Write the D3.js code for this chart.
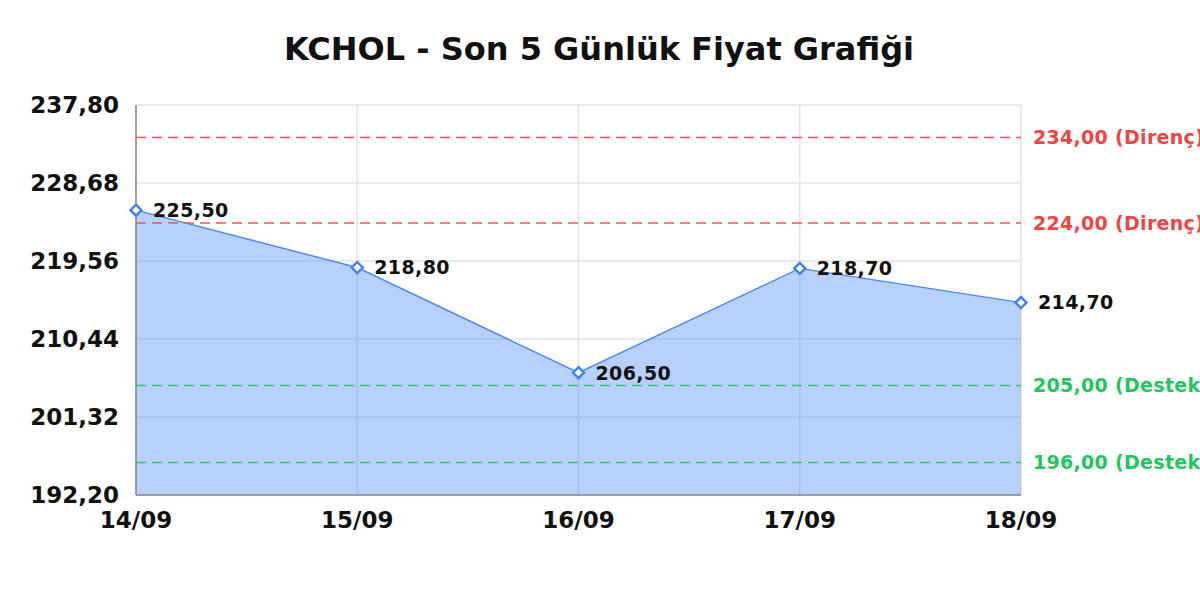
<!DOCTYPE html>
<html>
<head>
<meta charset="utf-8">
<script src="https://cdn.jsdelivr.net/npm/d3@7"></script>
<style>
  html, body { margin: 0; padding: 0; background: #fff; }
  svg { display: block; font-family: "DejaVu Sans", sans-serif; }
</style>
</head>
<body>
<div id="chart"></div>
<script>
// ── Data ───────────────────────────────────────────────────────────────
const dates  = ["14/09", "15/09", "16/09", "17/09", "18/09"];
const prices = [225.50, 218.80, 206.50, 218.70, 214.70];
const yTicks = [192.20, 201.32, 210.44, 219.56, 228.68, 237.80];
const resistance = [234.00, 224.00];
const support    = [205.00, 196.00];

const title = "KCHOL - Son 5 Günlük Fiyat Grafiği";
const fmt = v => v.toFixed(2).replace(".", ",");

// ── Setup ──────────────────────────────────────────────────────────────
const W = 1200, H = 600;
const m = { top: 105, right: 179, bottom: 105, left: 136 };

const svg = d3.select("#chart").append("svg").attr("width", W).attr("height", H);

const x = d3.scalePoint().domain(dates).range([m.left, W - m.right]);
const y = d3.scaleLinear().domain([yTicks[0], yTicks[yTicks.length - 1]]).range([H - m.bottom, m.top]);

// ── Grid ───────────────────────────────────────────────────────────────
const grid = svg.append("g");
grid.selectAll("line.h").data(yTicks).join("line").attr("class", "h")
  .attr("x1", m.left).attr("x2", W - m.right)
  .attr("y1", d => y(d)).attr("y2", d => y(d))
  .attr("stroke", "#e3e3e3").attr("stroke-width", 1.5);
grid.selectAll("line.v").data(dates).join("line").attr("class", "v")
  .attr("x1", d => x(d)).attr("x2", d => x(d))
  .attr("y1", m.top).attr("y2", H - m.bottom)
  .attr("stroke", "#e3e3e3").attr("stroke-width", 1.5);

// ── Area + line ────────────────────────────────────────────────────────
const pts = dates.map((d, i) => ({ d, v: prices[i] }));
svg.append("path").datum(pts)
  .attr("d", d3.area().x(p => x(p.d)).y0(y(yTicks[0])).y1(p => y(p.v)))
  .attr("fill", "rgba(59,130,246,0.37)");
svg.append("path").datum(pts)
  .attr("d", d3.line().x(p => x(p.d)).y(p => y(p.v)))
  .attr("fill", "none").attr("stroke", "#4a89f0").attr("stroke-width", 1.4);

// ── Reference lines ────────────────────────────────────────────────────
const refs = resistance.map(v => ({ v, c: "#f05656", tc: "#ef4444", t: "Direnç" }))
  .concat(support.map(v => ({ v, c: "#2ecc71", tc: "#22c55e", t: "Destek" })));
const refG = svg.append("g");
refG.selectAll("line").data(refs).join("line")
  .attr("x1", m.left).attr("x2", W - m.right)
  .attr("y1", d => y(d.v)).attr("y2", d => y(d.v))
  .attr("stroke", d => d.c).attr("stroke-width", 1.5).attr("stroke-dasharray", "10,6");
refG.selectAll("text").data(refs).join("text")
  .attr("x", W - m.right + 12).attr("y", d => y(d.v)).attr("dy", "0.36em")
  .attr("fill", d => d.tc).attr("font-size", 19).attr("font-weight", "bold")
  .attr("letter-spacing", 0.3)
  .text(d => `${fmt(d.v)} (${d.t})`);

// ── Axes ───────────────────────────────────────────────────────────────
svg.append("line").attr("x1", m.left).attr("x2", m.left)
  .attr("y1", m.top).attr("y2", H - m.bottom).attr("stroke", "#888").attr("stroke-width", 1.5);
svg.append("line").attr("x1", m.left).attr("x2", W - m.right)
  .attr("y1", H - m.bottom).attr("y2", H - m.bottom).attr("stroke", "#888").attr("stroke-width", 1.5);

svg.append("g").selectAll("text").data(yTicks).join("text")
  .attr("x", m.left - 17).attr("y", d => y(d)).attr("dy", "0.36em")
  .attr("text-anchor", "end").attr("font-size", 23).attr("font-weight", "bold").attr("fill", "#111")
  .text(fmt);

svg.append("g").selectAll("text").data(dates).join("text")
  .attr("x", d => x(d)).attr("y", H - m.bottom + 33)
  .attr("text-anchor", "middle").attr("font-size", 23).attr("font-weight", "bold").attr("fill", "#111")
  .text(d => d);

// ── Markers + labels ───────────────────────────────────────────────────
const mk = svg.append("g").selectAll("g").data(pts).join("g")
  .attr("transform", p => `translate(${x(p.d)},${y(p.v)})`);
mk.append("path").attr("d", "M0,-5.5L5.5,0L0,5.5L-5.5,0Z")
  .attr("fill", "#fff").attr("stroke", "#3b82f6").attr("stroke-width", 2.4);
mk.append("text").attr("x", 17).attr("dy", "0.36em")
  .attr("font-size", 19).attr("font-weight", "bold").attr("fill", "#111")
  .attr("letter-spacing", 0.4)
  .text(p => fmt(p.v));

// ── Title ──────────────────────────────────────────────────────────────
svg.append("text").attr("x", W / 2 - 1).attr("y", 60)
  .attr("text-anchor", "middle").attr("font-size", 32).attr("font-weight", "bold").attr("fill", "#111")
  .text(title);
</script>
</body>
</html>
